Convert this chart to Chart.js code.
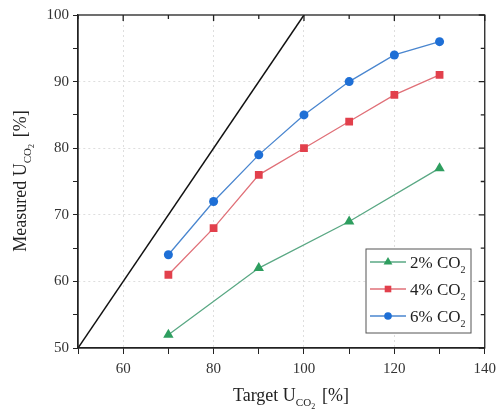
<!DOCTYPE html>
<html>
<head>
<meta charset="utf-8">
<script src="https://cdn.jsdelivr.net/npm/chart.js@4"></script>
<style>
  html, body { margin: 0; padding: 0; background: #fff; }
  #wrap { width: 502px; height: 416px; }
</style>
</head>
<body>
<div id="wrap"><canvas id="chart" width="502" height="416"></canvas></div>
<script>
// data
const target = [70, 80, 90, 100, 110, 120, 130];
const co2_4 = [61, 68, 76, 80, 84, 88, 91];
const co2_6 = [64, 72, 79, 85, 90, 94, 96];
const target2 = [70, 90, 110, 130];
const co2_2 = [52, 62, 69, 77];
const parity = [50, 100];

const xTicks = [50, 60, 70, 80, 90, 100, 110, 120, 130, 140];
const yTicks = [50, 55, 60, 65, 70, 75, 80, 85, 90, 95, 100];
const legendLabels = ['2% CO', '4% CO', '6% CO'];

const FONT = "'Liberation Serif', 'DejaVu Serif', serif";
const green = '#2e9e5f', red = '#e2404c', blue = '#1e6fd6';

const pts = (xs, ys) => xs.map((x, i) => ({ x: x, y: ys[i] }));

const series = [
    { text: legendLabels[0], data: pts(target2, co2_2), color: green, line: '#5aa884', style: 'triangle', r: 6 },
    { text: legendLabels[1], data: pts(target, co2_4), color: red, line: '#e07078', style: 'rect', r: 5.5 },
    { text: legendLabels[2], data: pts(target, co2_6), color: blue, line: '#4a86cf', style: 'circle', r: 4.5 }
];

// frame, inward ticks on top/right, axis titles and legend
const extras = {
    id: 'extras',
    afterDraw(c) {
        const ctx = c.ctx, a = c.chartArea, xs = c.scales.x, ys = c.scales.y;
        ctx.save();
        ctx.setLineDash([]);
        ctx.strokeStyle = '#222';
        ctx.lineWidth = 1.3;
        ctx.strokeRect(a.left, a.top, a.right - a.left, a.bottom - a.top);
        ctx.beginPath();
        xTicks.forEach(v => {
            const px = xs.getPixelForValue(v);
            const len = v % 20 === 0 ? 6 : 4;
            ctx.moveTo(px, a.top); ctx.lineTo(px, a.top + len);
        });
        yTicks.forEach(v => {
            const py = ys.getPixelForValue(v);
            const len = v % 10 === 0 ? 6 : 4;
            ctx.moveTo(a.right, py); ctx.lineTo(a.right - len, py);
        });
        ctx.stroke();

        // axis titles with subscripts
        ctx.fillStyle = '#222';
        ctx.textBaseline = 'alphabetic';
        const drawTitle = (pre, post, x, y) => {
            ctx.font = '18px ' + FONT;
            const w1 = ctx.measureText(pre).width;
            ctx.font = '11px ' + FONT;
            const w2 = ctx.measureText('CO').width;
            const w3 = ctx.measureText('2').width * 0.8;
            ctx.font = '18px ' + FONT;
            const w4 = ctx.measureText(post).width;
            let sx = x - (w1 + w2 + w3 + w4) / 2;
            ctx.fillText(pre, sx, y); sx += w1;
            ctx.font = '11px ' + FONT;
            ctx.fillText('CO', sx, y + 5); sx += w2;
            ctx.font = '8px ' + FONT;
            ctx.fillText('2', sx, y + 8); sx += w3;
            ctx.font = '18px ' + FONT;
            ctx.fillText(post, sx + 2, y);
        };
        drawTitle('Target U', ' [%]', 290, 401);
        ctx.save();
        ctx.translate(26, 182);
        ctx.rotate(-Math.PI / 2);
        drawTitle('Measured U', ' [%]', 0, 0);
        ctx.restore();

        // legend
        const lx = 366, ly = 249, lw = 105, lh = 84;
        ctx.fillStyle = '#fff';
        ctx.fillRect(lx, ly, lw, lh);
        ctx.strokeStyle = '#555';
        ctx.lineWidth = 1;
        ctx.strokeRect(lx, ly, lw, lh);
        series.forEach((s, i) => {
            const y = ly + 13 + i * 27;
            ctx.strokeStyle = s.line;
            ctx.lineWidth = 1.3;
            ctx.beginPath();
            ctx.moveTo(lx + 4, y); ctx.lineTo(lx + 40, y);
            ctx.stroke();
            ctx.fillStyle = s.color;
            Chart.helpers.drawPoint(ctx, { pointStyle: s.style, radius: s.r * 0.85, borderWidth: 0 }, lx + 22, y);
            ctx.fillStyle = '#222';
            ctx.font = '17px ' + FONT;
            ctx.fillText(s.text, lx + 44, y + 6);
            const tw = ctx.measureText(s.text).width;
            ctx.font = '10px ' + FONT;
            ctx.fillText('2', lx + 44 + tw, y + 11);
        });
        ctx.restore();
    }
};

new Chart(document.querySelector('#chart').getContext('2d'), {
    type: 'scatter',
    data: {
        datasets: [
            {
                label: 'parity',
                data: pts(parity, parity),
                showLine: true,
                borderColor: '#111',
                borderWidth: 1.5,
                pointRadius: 0
            }
        ].concat(series.map(s => ({
            label: s.text + '2',
            data: s.data,
            showLine: true,
            borderColor: s.line,
            borderWidth: 1.3,
            pointStyle: s.style,
            pointRadius: s.r,
            pointBackgroundColor: s.color,
            pointBorderWidth: 0
        })))
    },
    options: {
        responsive: false,
        animation: false,
        layout: { padding: { top: 15, right: 11, left: 0, bottom: 0 } },
        plugins: { legend: { display: false }, tooltip: { enabled: false } },
        scales: {
            x: {
                type: 'linear',
                min: 50, max: 140,
                afterFit: s => { s.height = 68; },
                afterBuildTicks: s => { s.ticks = xTicks.map(v => ({ value: v })); },
                border: { color: '#222', width: 1.3, dash: [2, 3] },
                grid: {
                    color: c => (c.tick && c.tick.value % 20 === 0 && c.tick.value > 50 && c.tick.value < 140) ? '#dedede' : 'rgba(0,0,0,0)',
                    tickColor: '#222',
                    tickBorderDash: [],
                    tickLength: 6
                },
                ticks: {
                    color: '#333',
                    font: { family: FONT, size: 15 },
                    padding: 6,
                    maxRotation: 0,
                    autoSkip: false,
                    callback: v => (v % 20 === 0 && v > 50) ? v : ''
                }
            },
            y: {
                type: 'linear',
                min: 50, max: 100,
                afterFit: s => { s.width = 78; },
                afterBuildTicks: s => { s.ticks = yTicks.map(v => ({ value: v })); },
                border: { color: '#222', width: 1.3, dash: [2, 3] },
                grid: {
                    color: c => (c.tick && c.tick.value % 10 === 0 && c.tick.value > 50 && c.tick.value < 100) ? '#dedede' : 'rgba(0,0,0,0)',
                    tickColor: '#222',
                    tickBorderDash: [],
                    tickLength: 5
                },
                ticks: {
                    color: '#333',
                    font: { family: FONT, size: 15 },
                    padding: 4,
                    autoSkip: false,
                    callback: v => v % 10 === 0 ? v : ''
                }
            }
        }
    },
    plugins: [extras]
});
</script>
</body>
</html>
